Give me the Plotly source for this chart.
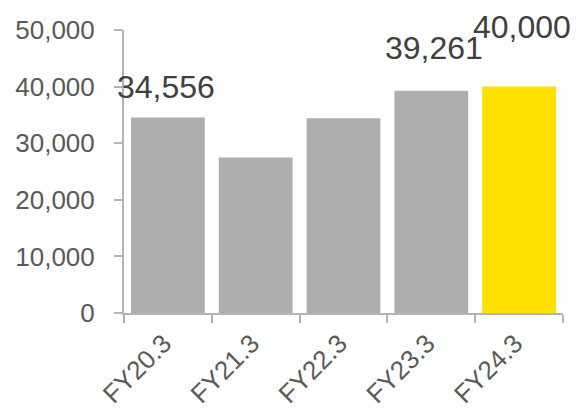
import plotly.graph_objects as go

# Fiscal years and values
categories = ["FY20.3", "FY21.3", "FY22.3", "FY23.3", "FY24.3"]
values = [34556, 27480, 34430, 39261, 40000]
bar_colors = ["#AEAEAE", "#AEAEAE", "#AEAEAE", "#AEAEAE", "#FFE000"]

# Value labels shown above selected bars: (category index, yshift px, xshift px)
labelled = [(0, 30, -2), (3, 43, 3), (4, 60, 3)]

fig = go.Figure(
    go.Bar(
        x=categories,
        y=values,
        marker=dict(color=bar_colors, line=dict(width=0)),
        hoverinfo="skip",
    )
)

for idx, ys, xs in labelled:
    fig.add_annotation(
        x=categories[idx],
        y=values[idx],
        text=f"{values[idx]:,}",
        showarrow=False,
        yanchor="middle",
        xanchor="center",
        yshift=ys,
        xshift=xs,
        font=dict(family="Liberation Sans, Arial, sans-serif", size=32, color="#404040"),
    )

axis_color = "#B4B4B4"
fig.update_layout(
    width=578,
    height=410,
    margin=dict(l=124, r=15, t=30, b=97, autoexpand=False),
    paper_bgcolor="white",
    plot_bgcolor="white",
    bargap=0.16,
    showlegend=False,
    font=dict(family="Liberation Sans, Arial, sans-serif", color="#595959"),
    xaxis=dict(
        type="category",
        range=[-0.5, len(categories) - 0.5],
        automargin=False,
        showline=True,
        linecolor=axis_color,
        linewidth=2,
        ticks="outside",
        tickson="boundaries",
        ticklen=8,
        tickwidth=2,
        tickcolor=axis_color,
        tickangle=-45,
        ticklabelstandoff=3,
        ticklabelshift=-4,
        tickfont=dict(size=26, color="#595959"),
        showgrid=False,
    ),
    yaxis=dict(
        range=[0, 50000],
        automargin=False,
        tickvals=[0, 10000, 20000, 30000, 40000, 50000],
        tickformat=",d",
        showline=True,
        linecolor=axis_color,
        linewidth=2,
        ticks="outside",
        ticklen=8,
        tickwidth=2,
        tickcolor=axis_color,
        ticklabelstandoff=14,
        tickfont=dict(size=26, color="#595959"),
        showgrid=False,
        zeroline=False,
    ),
)

fig.write_html("out.html")
